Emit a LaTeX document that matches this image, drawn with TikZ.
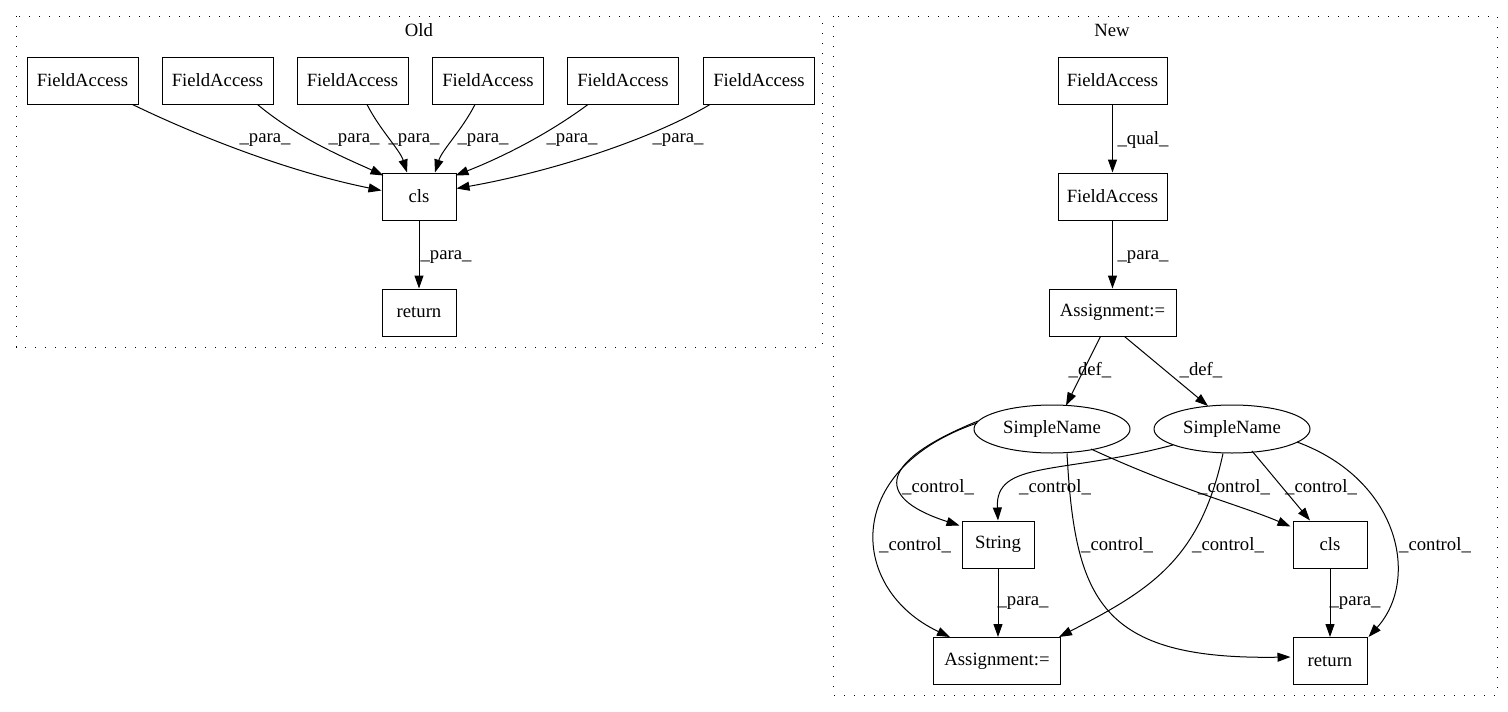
\documentclass[tikz,border=0pt]{standalone}
\usepackage{fontspec}
\setmainfont{Liberation Serif}
\usetikzlibrary{arrows.meta,shapes.geometric}
\begin{document}
\begin{tikzpicture}[x=1pt,y=-1pt,
  every node/.style={font=\fontsize{18.7}{20}\selectfont, inner sep=0pt},
  box/.style={draw, line width=1pt, minimum height=47pt, minimum width=#1},
  box/.default=74pt,
  oval/.style={draw, line width=1pt, ellipse, minimum width=156pt, minimum height=48pt},
  edge/.style={line width=1pt, -{Triangle[length=13pt,width=9pt]}},
  cluster/.style={line width=1pt, dash pattern=on 1.3pt off 8.7pt},
  lbl/.style={anchor=center}]
\useasboundingbox (0,0) rectangle (1508,712);
% clusters
\draw[cluster] (16,16) rectangle (822,347);
\draw[cluster] (833,16) rectangle (1497,695);
\node (toldlbl) at (419,30) {Old};
\node (tnewlbl) at (1112,30) {New};
% Old nodes
\node[box=111pt] (f1) at (82.5,80.5) {FieldAccess};
\node[box=111pt] (f2) at (217.5,80.5) {FieldAccess};
\node[box=111pt] (f3) at (352.5,80.5) {FieldAccess};
\node[box=111pt] (f4) at (488,80.5) {FieldAccess};
\node[box=111pt] (f5) at (623,80.5) {FieldAccess};
\node[box=111pt] (f6) at (759,80.5) {FieldAccess};
\node[box] (ocls) at (419,196.5) {cls};
\node[box] (oret) at (419,312.5) {return};
% Old edges
\draw[edge] ([xshift=50pt]f1.south) .. controls (185,130) and (280,170) .. ([yshift=6pt]ocls.west);
\draw[edge] ([xshift=40pt]f2.south) .. controls (300,140) and (350,160) .. ([xshift=2pt,yshift=-3pt]ocls.north west);
\draw[edge] ([xshift=14.5pt]f3.south) .. controls (380,130) and (400,150) .. ([xshift=-12pt]ocls.north);
\draw[edge] ([xshift=-13pt]f4.south) .. controls (462,130) and (442,150) .. ([xshift=16pt]ocls.north);
\draw[edge] ([xshift=-35pt]f5.south) .. controls (540,140) and (490,162) .. ([xshift=-1pt,yshift=-3pt]ocls.north east);
\draw[edge] ([xshift=-49pt]f6.south) .. controls (650,140) and (550,172) .. ([yshift=8pt]ocls.east);
\draw[edge] (ocls.south) -- (oret.north);
\node[lbl] (l1) at (265,140) {\_para\_};
\node[lbl] (l2) at (354,140) {\_para\_};
\node[lbl] (l3) at (414,140) {\_para\_};
\node[lbl] (l4) at (483,140) {\_para\_};
\node[lbl] (l5) at (572,140) {\_para\_};
\node[lbl] (l6) at (678,140) {\_para\_};
\node[lbl] (l7) at (446,257) {\_para\_};
% New nodes
\node[box=109pt] (nf1) at (1112.5,80.5) {FieldAccess};
\node[box=109pt] (nf2) at (1112.5,196.5) {FieldAccess};
\node[box=127pt] (na1) at (1112.5,312.5) {Assignment:=};
\node[oval] (snL) at (1052,429) {SimpleName};
\node[oval] (snR) at (1232,429) {SimpleName};
\node[box=72pt] (str) at (998,544.5) {String};
\node[box] (ncls) at (1330,544.5) {cls};
\node[box=127pt] (na2) at (997,661) {Assignment:=};
\node[box] (nret) at (1330,661) {return};
% New edges
\draw[edge] (nf1.south) -- (nf2.north);
\draw[edge] (nf2.south) -- (na1.north);
\draw[edge] ([xshift=-12pt]na1.south) -- ([xshift=14pt,yshift=-1pt]snL.north);
\draw[edge] ([xshift=12pt]na1.south) -- ([xshift=-24pt,yshift=-1.5pt]snR.north);
\draw[edge] ([xshift=-74pt,yshift=8pt]snL.center) .. controls (870,465) and (880,500) .. ([xshift=-2pt,yshift=-5pt]str.north west);
\draw[edge] ([xshift=-75pt,yshift=6pt]snL.center) .. controls (840,470) and (850,590) .. ([xshift=-47pt]na2.north);
\draw[edge] ([xshift=15pt]snL.south) .. controls (1075,600) and (1100,660) .. ([xshift=-2pt,yshift=4pt]nret.west);
\draw[edge] ([xshift=39pt,yshift=-20pt]snL.center) .. controls (1180,490) and (1240,505) .. ([xshift=-2pt,yshift=-6pt]ncls.north west);
\draw[edge] ([xshift=-59pt,yshift=-16pt]snR.center) .. controls (1060,475) and (995,460) .. (str.north);
\draw[edge] ([xshift=-9pt]snR.south) .. controls (1200,560) and (1150,590) .. ([xshift=-2pt]na2.north east);
\draw[edge] ([xshift=20pt,yshift=-22pt]snR.center) -- ([xshift=-20pt]ncls.north);
\draw[edge] ([xshift=65pt,yshift=-13pt]snR.center) .. controls (1400,480) and (1420,580) .. ([xshift=1pt]nret.north east);
\draw[edge] (str.south) -- (na2.north -| str.south);
\draw[edge] (ncls.south) -- (nret.north);
\node[lbl] (m1) at (1143,140) {\_qual\_};
\node[lbl] (m2) at (1143,257) {\_para\_};
\node[lbl] (m3) at (1090,370) {\_def\_};
\node[lbl] (m4) at (1201,370) {\_def\_};
\node[lbl] (c1) at (938,487) {\_control\_};
\node[lbl] (c2) at (1055,487) {\_control\_};
\node[lbl] (c3) at (1234,487) {\_control\_};
\node[lbl] (c4) at (1321,487) {\_control\_};
\node[lbl] (c5) at (915,545) {\_control\_};
\node[lbl] (c6) at (1117,545) {\_control\_};
\node[lbl] (c7) at (1228,545) {\_control\_};
\node[lbl] (c8) at (1435,545) {\_control\_};
\node[lbl] (p1) at (1023,603) {\_para\_};
\node[lbl] (p2) at (1355,603) {\_para\_};
\end{tikzpicture}
\end{document}
